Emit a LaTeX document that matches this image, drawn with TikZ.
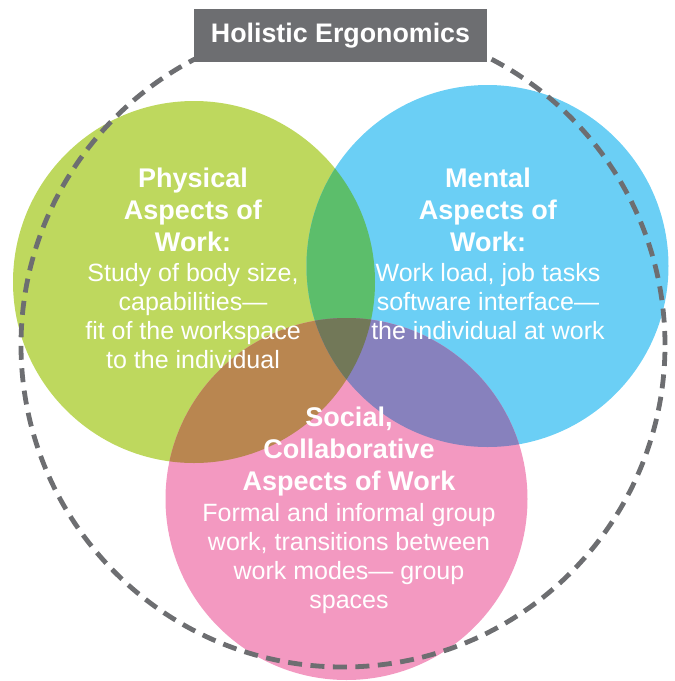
\documentclass[tikz,border=0pt]{standalone}
\usepackage{fontspec}
\setmainfont{Liberation Sans}
\definecolor{cgreen}{RGB}{190,216,94}
\definecolor{cblue}{RGB}{107,207,245}
\definecolor{cpink}{RGB}{243,153,193}
\definecolor{cgb}{RGB}{92,190,107}
\definecolor{cgp}{RGB}{185,134,80}
\definecolor{cbp}{RGB}{135,129,189}
\definecolor{call}{RGB}{114,120,88}
\definecolor{cgray}{RGB}{109,110,113}
\begin{document}
\begin{tikzpicture}[x=1pt,y=-1pt,
  headtext/.style={text=white, align=center, inner sep=0pt,
    font=\bfseries\fontsize{27}{32}\selectfont},
  bodytext/.style={text=white, align=center, inner sep=0pt,
    font=\fontsize{25}{29}\selectfont},
  outline/.style={draw=cgray, line width=4.8pt, dash pattern=on 14pt off 8.5pt}]
\useasboundingbox (0,0) rectangle (675,681);

% the three aspect circles
\coordinate (cg) at (194,282);
\coordinate (cb) at (487.5,266);
\coordinate (cp) at (346.5,499);
\fill[cgreen] (cg) circle (181pt);
\fill[cblue]  (cb) circle (181pt);
\fill[cpink]  (cp) circle (181pt);

% pairwise overlaps
\begin{scope}
  \clip (cg) circle (181pt);
  \fill[cgb] (cb) circle (181pt);
\end{scope}
\begin{scope}
  \clip (cg) circle (181pt);
  \fill[cgp] (cp) circle (181pt);
\end{scope}
\begin{scope}
  \clip (cb) circle (181pt);
  \fill[cbp] (cp) circle (181pt);
\end{scope}
% common centre
\begin{scope}
  \clip (cg) circle (181pt);
  \clip (cb) circle (181pt);
  \fill[call] (cp) circle (181pt);
\end{scope}

% enclosing dashed boundary
\coordinate (ch) at (343,345);
\draw[outline] (ch) circle (322pt);

% title
\node[fill=cgray, minimum width=293pt, minimum height=53pt, inner sep=0pt,
  text=white, font=\bfseries\fontsize{26.8}{30}\selectfont] (title) at (340.5,35.5)
  {Holistic Ergonomics};

% labels
\node[headtext] (physhead) at (193,210) {Physical\\Aspects of\\Work:};
\node[bodytext] (physbody) at (193,316) {Study of body size,\\capabilities---\\fit of the workspace\\to the individual};

\node[headtext] (menthead) at (488,210) {Mental\\Aspects of\\Work:};
\node[bodytext] (mentbody) at (488,301.5) {Work load, job tasks\\software interface---\\the individual at work};

\node[headtext] (sochead) at (349,452) {Social,\\Collaborative\\Aspects of Work};
\node[bodytext] (socbody) at (349,559) {Formal and informal group\\work, transitions between\\work modes--- group\\spaces};
\end{tikzpicture}
\end{document}
